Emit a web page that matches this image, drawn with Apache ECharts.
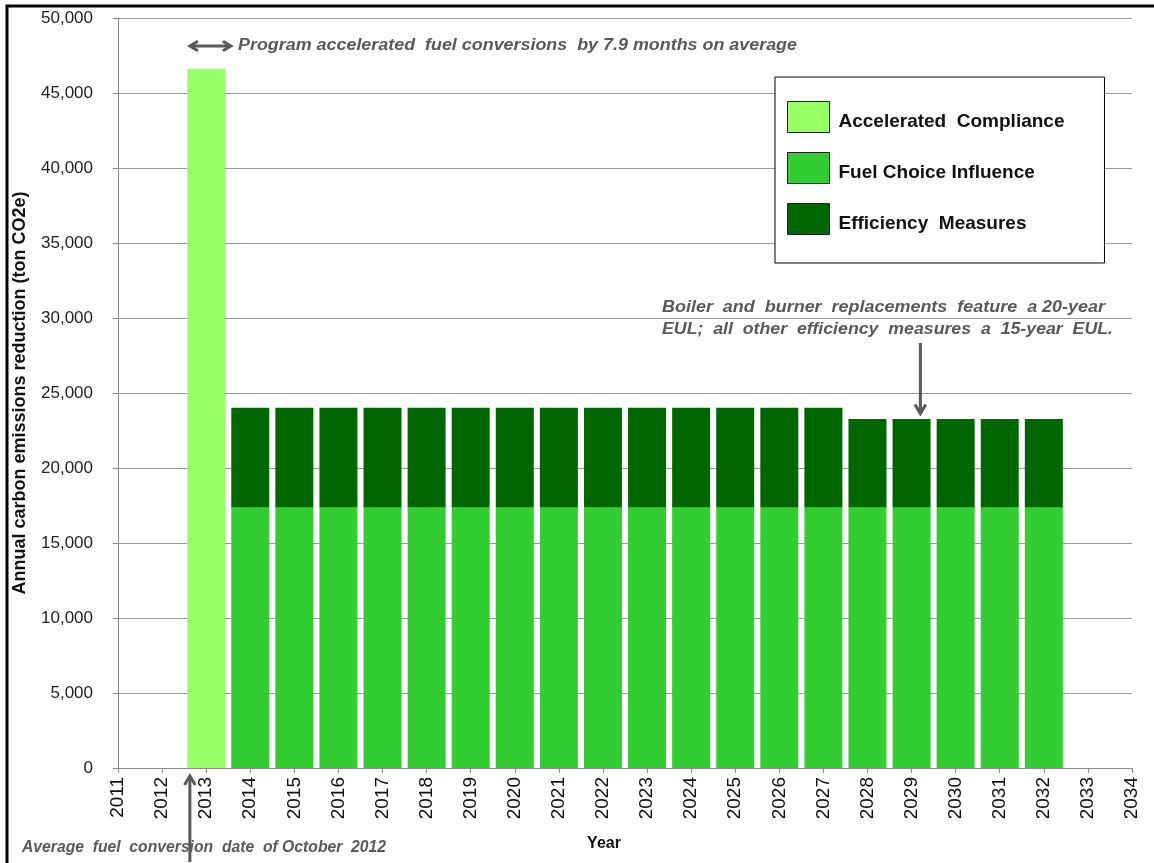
<!DOCTYPE html>
<html>
<head>
<meta charset="utf-8">
<script src="https://cdn.jsdelivr.net/npm/echarts@6/dist/echarts.min.js"></script>
<style>
  html, body { margin: 0; padding: 0; background: #fff; }
  #chart { width: 1154px; height: 863px; }
</style>
</head>
<body>
<div id="chart"></div>
<script>
// Years on the category axis
const years = ['2011','2012','2013','2014','2015','2016','2017','2018','2019','2020','2021','2022',
               '2023','2024','2025','2026','2027','2028','2029','2030','2031','2032','2033','2034'];

// Annual reductions (ton CO2e) by category; null where a category does not apply
const acceleratedCompliance = [null, null, 46620, null, null, null, null, null, null, null, null, null,
                               null, null, null, null, null, null, null, null, null, null, null, null];
const fuelChoiceInfluence   = [null, null, null, 17370, 17370, 17370, 17370, 17370, 17370, 17370, 17370, 17370,
                               17370, 17370, 17370, 17370, 17370, 17370, 17370, 17370, 17370, 17370, null, null];
const efficiencyMeasures    = [null, null, null, 6650, 6650, 6650, 6650, 6650, 6650, 6650, 6650, 6650,
                               6650, 6650, 6650, 6650, 6650, 5900, 5900, 5900, 5900, 5900, null, null];

const seriesNames = ['Accelerated  Compliance', 'Fuel Choice Influence', 'Efficiency  Measures'];
const seriesColors = ['#99ff66', '#33cc33', '#006600'];

const noteColor = '#595959';
const noteFontFamily = '"Liberation Sans", Arial, sans-serif';
const noteFont = 'italic bold 16px ' + noteFontFamily;

const chart = echarts.init(document.getElementById('chart'), null, { renderer: 'canvas' });

function barSeries(idx, data) {
  return {
    name: seriesNames[idx],
    type: 'bar',
    stack: 'total',
    barWidth: 38,
    data: data,
    itemStyle: { color: seriesColors[idx] },
    emphasis: { disabled: true }
  };
}

const option = {
  animation: false,
  backgroundColor: '#ffffff',
  textStyle: { fontFamily: '"Liberation Sans", Arial, sans-serif' },
  grid: { left: 118, right: 22, top: 18, bottom: 95, containLabel: false },
  legend: {
    left: 775,
    top: 77,
    orient: 'vertical',
    itemWidth: 42,
    itemHeight: 31,
    itemGap: 19,
    padding: [24, 40, 28, 12],
    backgroundColor: '#ffffff',
    borderColor: '#000000',
    borderWidth: 1,
    borderRadius: 0,
    icon: 'rect',
    itemStyle: { borderColor: '#222222', borderWidth: 1 },
    selectedMode: false,
    data: seriesNames,
    formatter: name => '{t|' + name + '}',
    textStyle: {
      fontSize: 19,
      fontWeight: 'bold',
      color: '#111111',
      fontFamily: '"Liberation Sans", Arial, sans-serif',
      rich: {
        t: {
          fontSize: 19,
          fontWeight: 'bold',
          color: '#111111',
          fontFamily: '"Liberation Sans", Arial, sans-serif',
          padding: [9, 0, 0, 4]
        }
      }
    }
  },
  xAxis: {
    type: 'category',
    data: years,
    boundaryGap: false,
    name: 'Year',
    nameLocation: 'middle',
    nameGap: 68,
    nameTextStyle: { fontSize: 16, fontWeight: 'bold', color: '#111', padding: [0, 42, 0, 0] },
    axisLine: { show: true, lineStyle: { color: '#8c8c8c', width: 1 } },
    axisTick: { show: true, alignWithLabel: true, length: 5, lineStyle: { color: '#8c8c8c' } },
    axisLabel: {
      interval: 0,
      rotate: 90,
      margin: 9,
      fontSize: 19,
      color: '#111111'
    },
    splitLine: { show: false }
  },
  yAxis: {
    type: 'value',
    min: 0,
    max: 50000,
    interval: 5000,
    name: 'Annual carbon emissions reduction (ton CO2e)',
    nameLocation: 'middle',
    nameGap: 89,
    nameTextStyle: { fontSize: 18, fontWeight: 'bold', color: '#111' },
    axisLine: { show: true, lineStyle: { color: '#8c8c8c', width: 1 } },
    axisTick: { show: true, length: 5, lineStyle: { color: '#8c8c8c' } },
    axisLabel: {
      fontSize: 17,
      color: '#222222',
      margin: 25,
      formatter: v => v.toLocaleString('en-US')
    },
    splitLine: { show: true, lineStyle: { color: '#9a9a9a', width: 1 } }
  },
  series: [
    barSeries(0, acceleratedCompliance),
    barSeries(1, fuelChoiceInfluence),
    barSeries(2, efficiencyMeasures)
  ]
};

chart.setOption(option);

// Position helper: fractional year and value to pixels
function px(yearFrac, value) {
  const base = chart.convertToPixel({ xAxisIndex: 0, yAxisIndex: 0 }, [0, value]);
  const step = chart.convertToPixel({ xAxisIndex: 0 }, 1) - chart.convertToPixel({ xAxisIndex: 0 }, 0);
  return [base[0] + (yearFrac - 2011) * step, base[1]];
}

// Horizontal stretch so a note spans the wanted width
const measureCtx = document.createElement('canvas').getContext('2d');
function stretchFor(text, font, width) {
  measureCtx.font = font;
  return width / measureCtx.measureText(text).width;
}

function arrowHead(tip, dir, size, color) {
  const [dx, dy] = dir;
  const bx = tip[0] - dx * size, by = tip[1] - dy * size;
  const nx = -dy * size * 0.6, ny = dx * size * 0.6;
  return {
    type: 'polyline',
    shape: { points: [[bx + nx, by + ny], tip, [bx - nx, by - ny]] },
    style: { stroke: color, lineWidth: 3, fill: null, lineJoin: 'miter' },
    silent: true
  };
}

function note(text, x, yMid, width) {
  const sx = stretchFor(text, noteFont, width);
  return {
    type: 'text', x: x, y: yMid, scaleX: sx, scaleY: 1,
    style: { text: text, font: noteFont, fill: noteColor, verticalAlign: 'middle', align: 'left' },
    silent: true
  };
}

const topY = 46;
const leftX = px(2012.63, 0)[0];
const rightX = px(2013.56, 0)[0];
const octX = px(2012.63, 0)[0];
const zeroY = px(2011, 0)[1];
const eulX = px(2029.2, 0)[0];
const eulTipY = px(2029, 23500)[1];

const topNote = 'Program accelerated  fuel conversions  by 7.9 months on average';
const bottomNote = 'Average  fuel  conversion  date  of October  2012';
const eulLine1 = 'Boiler  and  burner  replacements  feature  a 20-year';
const eulLine2 = 'EUL;  all  other  efficiency  measures  a  15-year  EUL.';

chart.setOption({
  graphic: [
    // outer frame
    { type: 'rect', shape: { x: 7, y: 6, width: 1160, height: 900 },
      style: { fill: null, stroke: '#000', lineWidth: 3 }, silent: true },
    // double arrow for acceleration
    { type: 'line', shape: { x1: leftX + 2, y1: topY, x2: rightX - 2, y2: topY },
      style: { stroke: noteColor, lineWidth: 3 }, silent: true },
    arrowHead([leftX, topY], [-1, 0], 8, noteColor),
    arrowHead([rightX, topY], [1, 0], 8, noteColor),
    note(topNote, 238, topY, 559),
    // arrow marking the average conversion date
    { type: 'line', shape: { x1: octX, y1: 862, x2: octX, y2: zeroY + 9 },
      style: { stroke: noteColor, lineWidth: 3 }, silent: true },
    arrowHead([octX, zeroY + 8], [0, -1], 9, noteColor),
    note(bottomNote, 22, 848, 364),
    // EUL note
    note(eulLine1, 662, 308, 443),
    note(eulLine2, 662, 330, 451),
    { type: 'line', shape: { x1: eulX, y1: 343, x2: eulX, y2: eulTipY - 2 },
      style: { stroke: noteColor, lineWidth: 3 }, silent: true },
    arrowHead([eulX, eulTipY - 2], [0, 1], 9, noteColor)
  ]
});
</script>
</body>
</html>
